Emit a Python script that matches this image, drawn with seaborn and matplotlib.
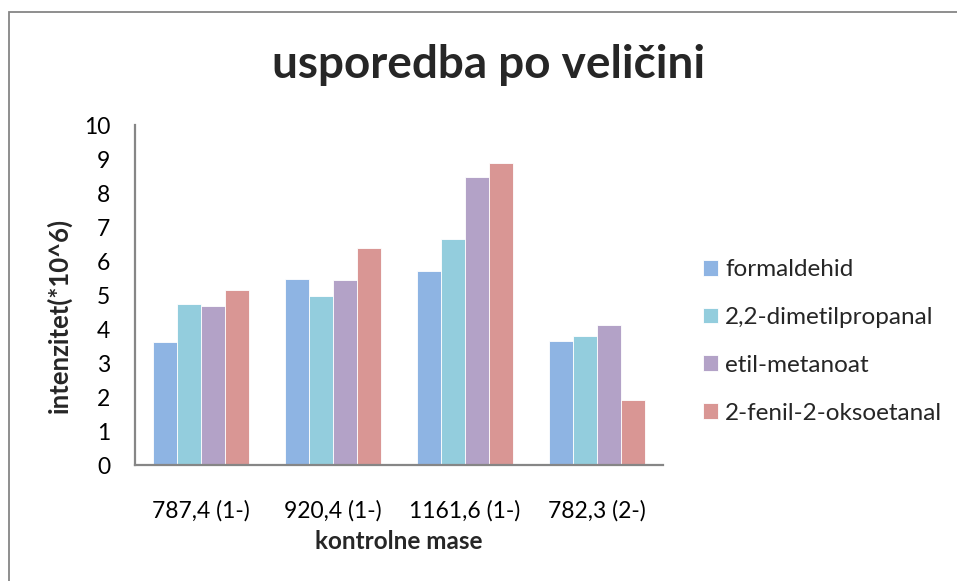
import matplotlib
matplotlib.use("Agg")
import matplotlib.pyplot as plt
from matplotlib.patches import Rectangle
import seaborn as sns
import pandas as pd

categories = ["787,4 (1-)", "920,4 (1-)", "1161,6 (1-)", "782,3 (2-)"]
series = ["formaldehid", "2,2-dimetilpropanal", "etil-metanoat", "2-fenil-2-oksoetanal"]
formaldehid = [3.63, 5.48, 5.70, 3.66]
dimetilpropanal = [4.75, 4.96, 6.66, 3.80]
etil_metanoat = [4.69, 5.44, 8.46, 4.12]
fenil_oksoetanal = [5.14, 6.37, 8.87, 1.90]
colors = ["#8EB4E3", "#93CDDD", "#B3A2C7", "#D99694"]
y_ticks = list(range(0, 11))

values = [formaldehid, dimetilpropanal, etil_metanoat, fenil_oksoetanal]
df = pd.DataFrame(
    [(c, s, v) for s, vals in zip(series, values) for c, v in zip(categories, vals)],
    columns=["masa", "spoj", "intenzitet"],
)

sns.set_theme(style="white")
plt.rcParams["font.family"] = ["Lato", "DejaVu Sans"]

fig = plt.figure(figsize=(9.57, 5.81), dpi=100)
ax = fig.add_axes([135 / 957, 1 - 465 / 581, 528 / 957, 340 / 581])

sns.barplot(
    data=df, x="masa", y="intenzitet", hue="spoj",
    order=categories, hue_order=series, palette=colors,
    width=0.727, saturation=1, edgecolor="white", linewidth=0.6,
    ax=ax, legend=True,
)

ax.set_xlim(-0.5, 3.5)
ax.set_ylim(0, 10)
ax.set_yticks(y_ticks)
ax.set_yticklabels([str(t) for t in y_ticks], fontsize=16.5)
ax.tick_params(axis="y", direction="in", length=7, width=1.3, color="#868686", pad=18)
ax.tick_params(axis="x", length=0, pad=25, labelsize=16.5)
for lab in ax.get_xticklabels() + ax.get_yticklabels():
    lab.set_color("black")

for side in ["top", "right"]:
    ax.spines[side].set_visible(False)
for side in ["left", "bottom"]:
    ax.spines[side].set_color("#868686")
    ax.spines[side].set_linewidth(1.6)

ax.set_xlabel("kontrolne mase", fontsize=17.5, fontweight="bold")
ax.xaxis.set_label_coords(0.5, -0.19)
ax.set_ylabel("intenzitet(*10^6)", fontsize=18.5, fontweight="bold")
ax.yaxis.set_label_coords(-0.119, 0.441)

fig.text(489 / 957, 1 - 78 / 581, "usporedba po veličini", ha="center", va="baseline",
         fontsize=33, fontweight="bold")

leg = ax.legend(
    loc="center left", bbox_to_anchor=(703 / 957, 1 - 341.5 / 581),
    bbox_transform=fig.transFigure, frameon=False, fontsize=17.5,
    handlelength=0.62, handleheight=0.62, handletextpad=0.3, labelspacing=1.1,
    borderpad=0, borderaxespad=0,
)

fig.patches.append(Rectangle((9 / 957, -0.1), 1.1, 1 - 12.5 / 581 + 0.1,
                             transform=fig.transFigure, fill=False,
                             edgecolor="#868686", linewidth=1.3))

fig.savefig("out.png", dpi=100)
